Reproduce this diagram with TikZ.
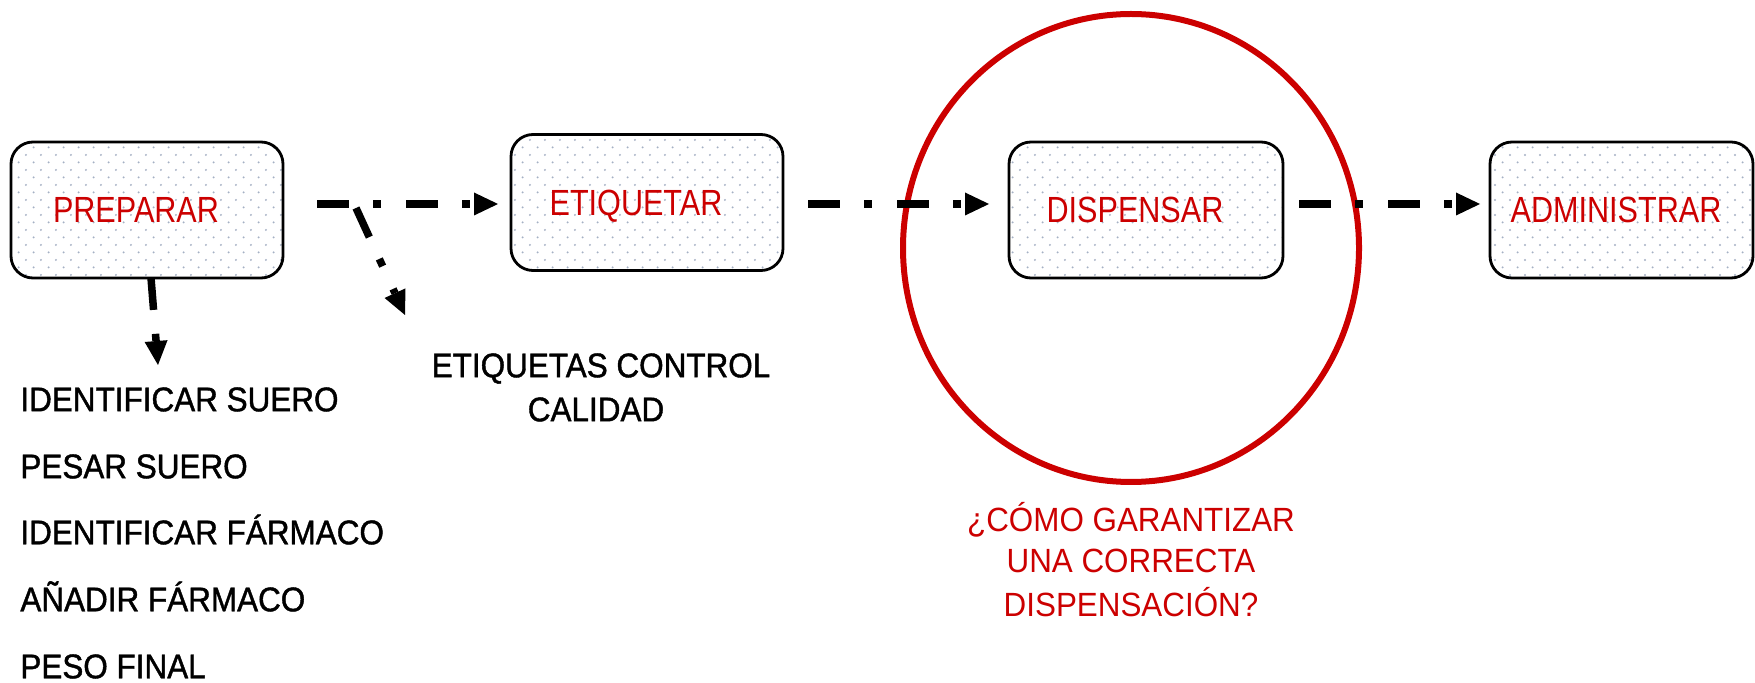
\documentclass[tikz,border=0pt]{standalone}
\usepackage{fontspec}
\usetikzlibrary{arrows.meta,calc,shapes.geometric,patterns.meta}
\newfontfamily\labfont[FakeStretch=0.84]{Liberation Sans}
\newfontfamily\blkfont[FakeStretch=0.92,FakeBold=1.2]{Liberation Sans}
\newfontfamily\qfont[FakeStretch=0.934]{Liberation Sans}
\definecolor{redc}{RGB}{204,0,0}
\definecolor{dotc}{RGB}{165,176,196}
\tikzdeclarepattern{
  name=boxdots,
  type=uncolored,
  bounding box={(0pt,0pt) and (7.65pt,7.65pt)},
  tile size={(7.65pt,7.65pt)},
  code={
    \pgfpathcircle{\pgfpoint{1.9pt}{1.9pt}}{0.55pt}
    \pgfpathcircle{\pgfpoint{5.725pt}{5.725pt}}{0.55pt}
    \pgfusepath{fill}
  }
}
\begin{document}
\begin{tikzpicture}[x=0.5pt,y=-0.5pt,
  stepbox/.style={draw=black, line width=1.4pt, rounded corners=11pt,
    preaction={fill=white}, pattern=boxdots, pattern color=dotc,
    minimum width=136pt, minimum height=68pt, inner sep=0pt, outer sep=0pt,
    text=redc, font={\labfont\fontsize{18.2pt}{20pt}\selectfont},
    text height=13pt, text depth=0pt},
  flow/.style={line width=3.75pt, dash pattern=on 16pt off 12pt on 4pt off 12.5pt,
    -{Triangle[length=12pt,width=11.5pt,line width=0pt]}},
  blk/.style={font={\blkfont\fontsize{17.1pt}{20pt}\selectfont}, text height=12.25pt,
    text depth=0pt, inner sep=0pt, text=black},
  qst/.style={font={\qfont\fontsize{16.8pt}{20pt}\selectfont}, text height=12pt,
    text depth=0pt, inner sep=0pt, text=redc},
  ringstyle/.style={draw=redc, line width=3pt, ellipse, inner sep=0pt, outer sep=0pt,
    minimum width=228pt, minimum height=234pt}
]
\useasboundingbox[fill=white] (0,0) rectangle (1755,683);

% highlight ring
\node[ringstyle] (ring) at (1131,248) {};

% process boxes
\node[stepbox] (prep) at (147,210) {PREPARAR\kern11pt};
\node[stepbox] (etiq) at (647,202.5) {ETIQUETAR\kern11pt};
\node[stepbox, minimum width=137pt] (disp) at (1146,210) {DISPENSAR\kern11pt};
\node[stepbox, minimum width=131.5pt] (admin) at (1621.5,210) {ADMINISTRAR\kern5.5pt};

% free ends
\coordinate (br) at ($(prep.east)+(73,-2)$);
\coordinate (qcend) at (405,315);
\coordinate (listend) at (158,365);

% connectors
\draw[flow] ($(prep.east)+(34,-6)$) -- ($(etiq.west)+(-13,1.5)$);
\draw[flow] (br) -- (qcend);
\draw[flow] ($(prep.south)+(4,0)$) -- (listend);
\draw[flow] ($(etiq.east)+(25,1.5)$) -- ($(disp.west)+(-20,-6)$);
\draw[flow] ($(disp.east)+(16,-6)$) -- ($(admin.west)+(-10,-6)$);

% list under PREPARAR
\node[blk, anchor=west] (l1) at (20,399) {IDENTIFICAR SUERO};
\node[blk, anchor=west] (l2) at (20,466) {PESAR SUERO};
\node[blk, anchor=west] (l3) at (20,532) {IDENTIFICAR FÁRMACO};
\node[blk, anchor=west] (l4) at (20,599) {AÑADIR FÁRMACO};
\node[blk, anchor=west] (l5) at (20,666) {PESO FINAL};

% quality control labels
\node[blk] (qc1) at (601,365) {ETIQUETAS CONTROL};
\node[blk] (qc2) at (596,409) {CALIDAD};

% question
\node[qst] (q1) at (1131,519) {¿CÓMO GARANTIZAR};
\node[qst] (q2) at (1131,561) {UNA CORRECTA};
\node[qst] (q3) at (1131,604) {DISPENSACIÓN?};
\end{tikzpicture}
\end{document}
